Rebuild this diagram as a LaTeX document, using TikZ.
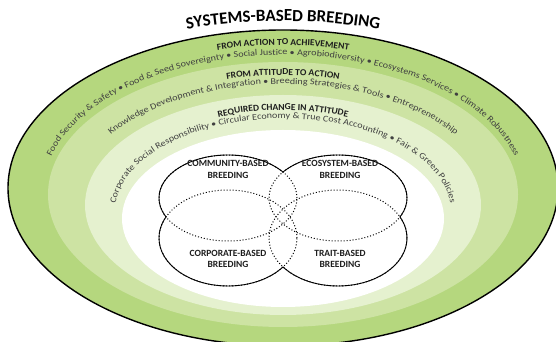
\documentclass[tikz,border=0pt]{standalone}
\usepackage{fontspec}
\setmainfont{Carlito}
\newfontfamily\itemfont[FakeStretch=1.15]{Carlito}
\newfontfamily\headfont[FakeStretch=1.04]{Carlito}
\usepackage{tikz}
\usetikzlibrary{decorations.text}

\definecolor{outergreen}{RGB}{181,215,126}
\definecolor{midgreen}{RGB}{205,227,163}
\definecolor{innergreen}{RGB}{229,241,207}
\definecolor{itemgray}{RGB}{64,64,64}
\definecolor{headgray}{RGB}{30,30,30}

\begin{document}
\begin{tikzpicture}[x=1pt,y=1pt]
		\tikzstyle{arc text}=[decorate,decoration={text along path,text align=center,text color=itemgray}]
		\tikzstyle{venn solid}=[draw=black,line width=0.9pt]
		\tikzstyle{venn dotted}=[draw=black,line width=1pt,dotted]
		\tikzstyle{venn text}=[font=\fontsize{9.5}{11.5}\selectfont\bfseries,align=center,text=headgray]

		\useasboundingbox (0,0) rectangle (556,342);
		\clip (0,0) rectangle (556,342);

		\coordinate (c0) at (283,154);
		\coordinate (c1) at (283,147.5);
		\coordinate (c2) at (283,137);
		\coordinate (c3) at (283,123.5);

		\draw [line width=1.4pt,fill=outergreen] (c0) ellipse [x radius=275,y radius=158];
		\fill [midgreen] (c1) ellipse [x radius=235,y radius=132.5];
		\fill [innergreen] (c2) ellipse [x radius=198,y radius=110];
		\fill [white] (c3) ellipse [x radius=161,y radius=88.5];

		\coordinate (t0) at (283,154);
		\coordinate (t1) at (283,150);
		\coordinate (t2) at (283,142);
		\coordinate (t3) at (283,130);

		\path [arc text,decoration={text color=black,text={|\fontsize{17}{20}\selectfont\bfseries|SYSTEMS-BASED BREEDING}}]
			(t0) ++(120:310 and 167) arc [start angle=120,end angle=60,x radius=310,y radius=167];

		\path [arc text,decoration={text color=headgray,text={|\headfont\bfseries\fontsize{9.2}{11}\selectfont|FROM ACTION TO ACHIEVEMENT}}]
			(t1) ++(125:248 and 147) arc [start angle=125,end angle=55,x radius=248,y radius=147];
		\path [arc text,decoration={text={|\itemfont\fontsize{8.8}{10}\selectfont|Food Security {\&} Safety • Food {\&} Seed Sovereignty • Social Justice • Agrobiodiversity • Ecosystems Services • Climate Robustness}}]
			(t1) ++(200:240 and 137) arc [start angle=200,end angle=-20,x radius=240,y radius=137];

		\path [arc text,decoration={text color=headgray,text={|\headfont\bfseries\fontsize{9.2}{11}\selectfont|FROM ATTITUDE TO ACTION}}]
			(t2) ++(125:213 and 125) arc [start angle=125,end angle=55,x radius=213,y radius=125];
		\path [arc text,decoration={text={|\itemfont\fontsize{8.8}{10}\selectfont|Knowledge Development {\&} Integration • Breeding Strategies {\&} Tools • Entrepreneurship}}]
			(t2) ++(200:208 and 116) arc [start angle=200,end angle=-20,x radius=208,y radius=116];

		\path [arc text,decoration={text color=headgray,text={|\headfont\bfseries\fontsize{9.2}{11}\selectfont|REQUIRED CHANGE IN ATTITUDE}}]
			(t3) ++(130:175 and 102) arc [start angle=130,end angle=50,x radius=175,y radius=102];
		\path [arc text,decoration={text={|\itemfont\fontsize{8.8}{10}\selectfont|Corporate Social Responsibility • Circular Economy {\&} True Cost Accounting • Fair {\&} Green Policies}}]
			(t3) ++(200:168 and 93.5) arc [start angle=200,end angle=-20,x radius=168,y radius=93.5];

		\coordinate (community) at (228,144);
		\coordinate (ecosystem) at (338,144);
		\coordinate (corporate) at (228,104);
		\coordinate (trait) at (338,104);

		\draw [venn dotted] (community) ellipse [x radius=69,y radius=43];
		\draw [venn dotted] (ecosystem) ellipse [x radius=69,y radius=43];
		\draw [venn dotted] (corporate) ellipse [x radius=69,y radius=48];
		\draw [venn dotted] (trait) ellipse [x radius=69,y radius=48];

		\begin{scope}[even odd rule]
			\clip (0,0) rectangle (556,342) (ecosystem) ellipse [x radius=69,y radius=43];
			\clip (0,0) rectangle (556,342) (corporate) ellipse [x radius=69,y radius=48];
			\clip (0,0) rectangle (556,342) (trait) ellipse [x radius=69,y radius=48];
			\draw [venn solid] (community) ellipse [x radius=69,y radius=43];
		\end{scope}
		\begin{scope}[even odd rule]
			\clip (0,0) rectangle (556,342) (community) ellipse [x radius=69,y radius=43];
			\clip (0,0) rectangle (556,342) (corporate) ellipse [x radius=69,y radius=48];
			\clip (0,0) rectangle (556,342) (trait) ellipse [x radius=69,y radius=48];
			\draw [venn solid] (ecosystem) ellipse [x radius=69,y radius=43];
		\end{scope}
		\begin{scope}[even odd rule]
			\clip (0,0) rectangle (556,342) (community) ellipse [x radius=69,y radius=43];
			\clip (0,0) rectangle (556,342) (ecosystem) ellipse [x radius=69,y radius=43];
			\clip (0,0) rectangle (556,342) (trait) ellipse [x radius=69,y radius=48];
			\draw [venn solid] (corporate) ellipse [x radius=69,y radius=48];
		\end{scope}
		\begin{scope}[even odd rule]
			\clip (0,0) rectangle (556,342) (community) ellipse [x radius=69,y radius=43];
			\clip (0,0) rectangle (556,342) (ecosystem) ellipse [x radius=69,y radius=43];
			\clip (0,0) rectangle (556,342) (corporate) ellipse [x radius=69,y radius=48];
			\draw [venn solid] (trait) ellipse [x radius=69,y radius=48];
		\end{scope}

		\node [venn text] (community label) at (228,172.5) {COMMUNITY-BASED\\BREEDING};
		\node [venn text] (ecosystem label) at (340,172.5) {ECOSYSTEM-BASED\\BREEDING};
		\node [venn text] (corporate label) at (228,83) {CORPORATE-BASED\\BREEDING};
		\node [venn text] (trait label) at (340,83) {TRAIT-BASED\\BREEDING};
	\end{tikzpicture}
\end{document}
